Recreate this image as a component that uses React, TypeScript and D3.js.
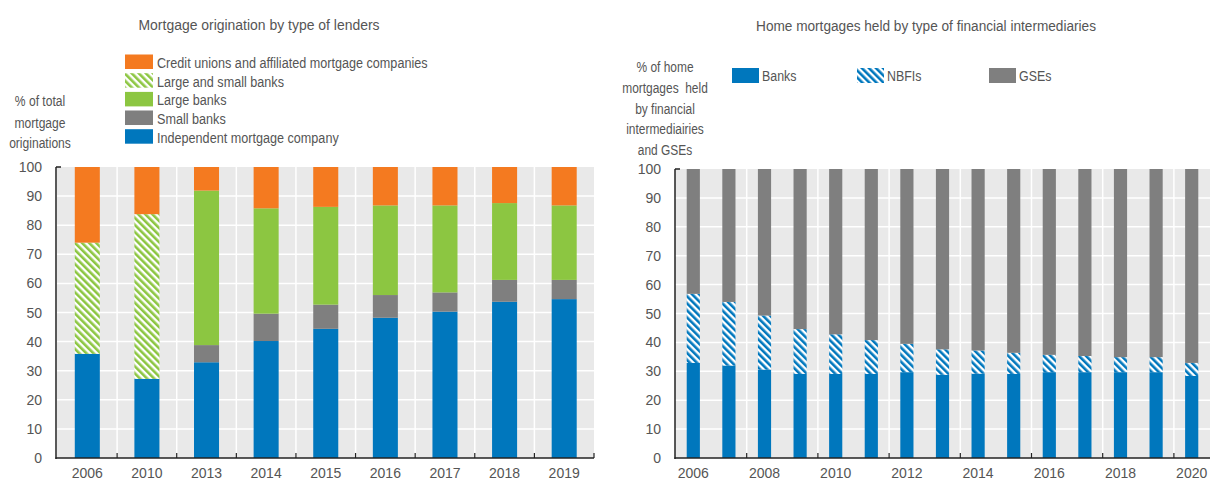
import React from 'react';
import * as d3 from 'd3';

// ---------- Left chart data ----------
const leftYears = ['2006', '2010', '2013', '2014', '2015', '2016', '2017', '2018', '2019'];
const independent = [35.8, 27.2, 32.9, 40.2, 44.4, 48.2, 50.3, 53.7, 54.6];
const smallBanks = [0, 0, 5.9, 9.4, 8.3, 7.8, 6.6, 7.5, 6.6];
const largeBanks = [0, 0, 53.1, 36.2, 33.6, 30.8, 29.9, 26.4, 25.6];
const largeAndSmall = [38.2, 56.6, 0, 0, 0, 0, 0, 0, 0];
const creditUnions = [26.0, 16.2, 8.1, 14.2, 13.7, 13.2, 13.2, 12.4, 13.2];
const leftKeys = ['independent', 'small', 'large', 'largeSmall', 'credit'];
const leftLegend = [
  { key: 'credit', label: 'Credit unions and affiliated mortgage companies' },
  { key: 'largeSmall', label: 'Large and small banks' },
  { key: 'large', label: 'Large banks' },
  { key: 'small', label: 'Small banks' },
  { key: 'independent', label: 'Independent mortgage company' },
];
const leftYLabel = ['% of total', 'mortgage', 'originations'];

// ---------- Right chart data ----------
const rightYears = ['2006', '2007', '2008', '2009', '2010', '2011', '2012', '2013', '2014', '2015', '2016', '2017', '2018', '2019', '2020'];
const banks = [32.9, 32.0, 30.6, 29.1, 29.1, 29.1, 29.7, 28.8, 29.2, 29.1, 29.7, 29.7, 29.7, 29.7, 28.4];
const nbfis = [23.9, 22.0, 18.7, 15.5, 13.7, 11.7, 9.8, 8.8, 8.0, 7.3, 6.0, 5.6, 5.2, 5.2, 4.5];
const gses = [43.2, 46.0, 50.7, 55.4, 57.2, 59.2, 60.5, 62.4, 62.8, 63.6, 64.3, 64.7, 65.1, 65.1, 67.1];
const rightKeys = ['banks', 'nbfis', 'gses'];
const rightLegend = [
  { key: 'banks', label: 'Banks' },
  { key: 'nbfis', label: 'NBFIs' },
  { key: 'gses', label: 'GSEs' },
];
const rightYLabel = ['% of home', 'mortgages  held', 'by financial', 'intermediairies', 'and GSEs'];
const rightTickYears = ['2006', '2008', '2010', '2012', '2014', '2016', '2018', '2020'];

const yTicks = [0, 10, 20, 30, 40, 50, 60, 70, 80, 90, 100];

const BLUE = '#0077bd';
const ORANGE = '#f47a20';
const GREEN = '#8cc641';
const GRAY = '#7f7f7f';
const BG = '#e9e9e9';
const TXT = '#555555';
const FONT = '"Liberation Sans", Arial, sans-serif';

const leftFill: Record<string, string> = {
  independent: BLUE,
  small: GRAY,
  large: GREEN,
  largeSmall: 'url(#greenStripes)',
  credit: ORANGE,
};
const rightFill: Record<string, string> = {
  banks: BLUE,
  nbfis: 'url(#blueStripes)',
  gses: GRAY,
};

function T({ x, y, sx = 0.8, size = 15.5, anchor = 'start', children }: any) {
  return (
    <text
      transform={`translate(${x},${y}) scale(${sx},1)`}
      textAnchor={anchor}
      fontFamily={FONT}
      fontSize={size}
      fill={TXT}
      style={{ whiteSpace: 'pre' }}
    >
      {children}
    </text>
  );
}

export default function App() {
  // Left
  const leftRows = leftYears.map((y, i) => ({
    year: y,
    independent: independent[i],
    small: smallBanks[i],
    large: largeBanks[i],
    largeSmall: largeAndSmall[i],
    credit: creditUnions[i],
  }));
  const leftStack = d3.stack<any>().keys(leftKeys)(leftRows);
  const lx = d3.scaleBand().domain(leftYears).range([57.5, 594]).padding(0);
  const ly = d3.scaleLinear().domain([0, 100]).range([458, 167]);
  const lStep = lx.step();
  const lBarW = lStep * 0.42;

  // Right
  const rightRows = rightYears.map((y, i) => ({ year: y, banks: banks[i], nbfis: nbfis[i], gses: gses[i] }));
  const rightStack = d3.stack<any>().keys(rightKeys)(rightRows);
  const rx = d3.scaleBand().domain(rightYears).range([675.5, 1209.5]).padding(0);
  const ry = d3.scaleLinear().domain([0, 100]).range([458, 169]);
  const rStep = rx.step();
  const rBarW = rStep * 0.37;

  const tp = { fontFamily: FONT, fill: TXT } as any;
  const NS = 14; // number size
  const legendBaselines = [68, 86.7, 105.4, 124, 142.7];
  const rightYLabelBaselines = [71.7, 93, 113.5, 134, 155];
  const leftYLabelBaselines = [106, 127.5, 148.3];

  return (
    <svg width={1211} height={480} style={{ position: 'absolute', left: 0, top: 0, background: '#fff' }}>
      <defs>
        <pattern id="greenStripes" patternUnits="userSpaceOnUse" width={5} height={5} patternTransform="rotate(-45)">
          <rect width={5} height={5} fill="#fff" />
          <rect width={2.6} height={5} fill={GREEN} />
        </pattern>
        <pattern id="blueStripes" patternUnits="userSpaceOnUse" width={5} height={5} patternTransform="rotate(-45)">
          <rect width={5} height={5} fill="#fff" />
          <rect width={2.6} height={5} fill={BLUE} />
        </pattern>
      </defs>

      {/* ================= LEFT CHART ================= */}
      <T x={259} y={30} sx={0.9} anchor="middle">Mortgage origination by type of lenders</T>
      {leftLegend.map((d, i) => (
        <g key={d.key}>
          <rect x={125} y={legendBaselines[i] - 13.5} width={28} height={14.5} fill={leftFill[d.key]} />
          <T x={157} y={legendBaselines[i]} sx={0.815}>{d.label}</T>
        </g>
      ))}
      {leftYLabel.map((t, i) => (
        <T key={t} x={40} y={leftYLabelBaselines[i]} sx={0.78} anchor="middle">{t}</T>
      ))}
      <rect x={57} y={ly(100)} width={594 - 57} height={ly(0) - ly(100)} fill={BG} />
      {yTicks.filter(t => t > 0 && t < 100).map(t => (
        <line key={t} x1={57} x2={594} y1={ly(t)} y2={ly(t)} stroke="#fff" strokeWidth={1.5} />
      ))}
      {leftYears.slice(1).map(y => (
        <line key={y} x1={lx(y)!} x2={lx(y)!} y1={ly(100)} y2={ly(0)} stroke="#fff" strokeWidth={1.5} />
      ))}
      {leftStack.map(s => (
        <g key={s.key}>
          {s.map((d, i) => (d[1] - d[0] > 0 ? (
            <rect key={i} x={lx(leftYears[i])! + (lStep - lBarW) / 2} width={lBarW}
              y={ly(d[1])} height={ly(d[0]) - ly(d[1])} fill={leftFill[s.key]} />
          ) : null))}
        </g>
      ))}
      <line x1={56} x2={56} y1={ly(100)} y2={ly(0) + 1} stroke="#222" strokeWidth={1.5} />
      <line x1={56} x2={61} y1={ly(100)} y2={ly(100)} stroke="#222" strokeWidth={1.5} />
      <line x1={55.5} x2={594} y1={ly(0)} y2={ly(0)} stroke="#222" strokeWidth={1.5} />
      {leftYears.slice(1).map(y => (
        <line key={y} x1={lx(y)!} x2={lx(y)!} y1={ly(0)} y2={ly(0) - 5} stroke="#222" strokeWidth={1.2} />
      ))}
      <line x1={594} x2={594} y1={ly(0)} y2={ly(0) - 5} stroke="#222" strokeWidth={1.2} />
      {yTicks.map(t => (
        <text key={t} x={42} y={ly(t) + 5} textAnchor="end" {...tp} fontSize={NS}>{t}</text>
      ))}
      {leftYears.map(y => (
        <text key={y} x={lx(y)! + lStep / 2} y={477.5} textAnchor="middle" {...tp} fontSize={NS}>{y}</text>
      ))}

      {/* ================= RIGHT CHART ================= */}
      <T x={926} y={31} sx={0.88} anchor="middle">Home mortgages held by type of financial intermediaries</T>
      {rightLegend.map((d, i) => {
        const xs = [732, 857, 989];
        return (
          <g key={d.key}>
            <rect x={xs[i]} y={68} width={27} height={15} fill={rightFill[d.key]} />
            <T x={xs[i] + 30} y={80.5} sx={0.8}>{d.label}</T>
          </g>
        );
      })}
      {rightYLabel.map((t, i) => (
        <T key={t} x={665} y={rightYLabelBaselines[i]} sx={0.77} anchor="middle">{t}</T>
      ))}
      <rect x={675} y={ry(100)} width={1210 - 675} height={ry(0) - ry(100)} fill={BG} />
      {yTicks.filter(t => t > 0 && t < 100).map(t => (
        <line key={t} x1={675} x2={1210} y1={ry(t)} y2={ry(t)} stroke="#fff" strokeWidth={1.5} />
      ))}
      {rightYears.filter((_, i) => i > 0 && i % 2 === 0).map(y => (
        <line key={y} x1={rx(y)!} x2={rx(y)!} y1={ry(100)} y2={ry(0)} stroke="#fff" strokeWidth={1.5} />
      ))}
      {rightStack.map(s => (
        <g key={s.key}>
          {s.map((d, i) => (
            <rect key={i} x={rx(rightYears[i])! + (rStep - rBarW) / 2} width={rBarW}
              y={ry(d[1])} height={ry(d[0]) - ry(d[1])} fill={rightFill[s.key]} />
          ))}
        </g>
      ))}
      <line x1={675} x2={675} y1={ry(100)} y2={ry(0) + 1} stroke="#222" strokeWidth={1.5} />
      <line x1={675} x2={680} y1={ry(100)} y2={ry(100)} stroke="#222" strokeWidth={1.5} />
      <line x1={674.5} x2={1210} y1={ry(0)} y2={ry(0)} stroke="#222" strokeWidth={1.5} />
      {rightYears.filter((_, i) => i > 0 && i % 2 === 0).map(y => (
        <line key={y} x1={rx(y)!} x2={rx(y)!} y1={ry(0)} y2={ry(0) - 5} stroke="#222" strokeWidth={1.2} />
      ))}
      {yTicks.map(t => (
        <text key={t} x={661} y={ry(t) + 5} textAnchor="end" {...tp} fontSize={NS}>{t}</text>
      ))}
      {rightTickYears.map(y => (
        <text key={y} x={rx(y)! + rStep / 2} y={477.5} textAnchor="middle" {...tp} fontSize={NS}>{y}</text>
      ))}
    </svg>
  );
}
